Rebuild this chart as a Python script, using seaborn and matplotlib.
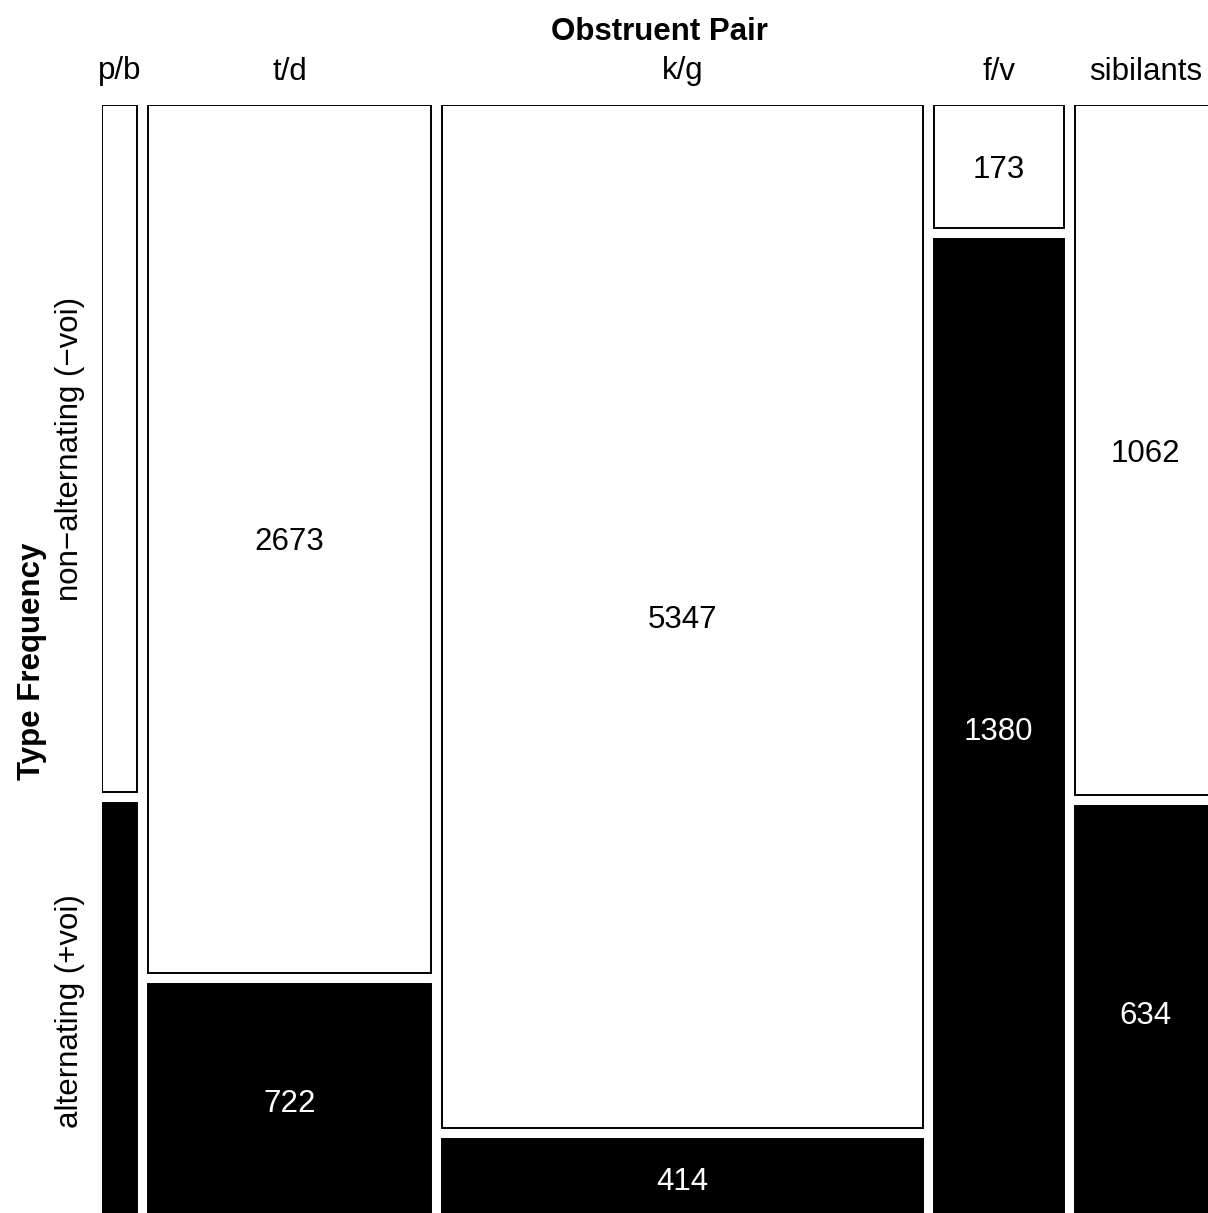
import numpy as np
import pandas as pd
import seaborn as sns
import matplotlib
matplotlib.use("Agg")
import matplotlib.pyplot as plt
import matplotlib.transforms as mtransforms

# ---- data ----
pairs = ["p/b", "t/d", "k/g", "f/v", "sibilants"]
non_alternating = [262, 2673, 5347, 173, 1062]   # top row (white)
alternating = [158, 722, 414, 1380, 634]         # bottom row (black)
show_counts = [False, True, True, True, True]
row_labels = ["non\u2212alternating (\u2212voi)", "alternating (+voi)"]
x_title = "Obstruent Pair"
y_title = "Type Frequency"

sns.set_theme(style="white")
plt.rcParams["font.family"] = ["Liberation Sans", "DejaVu Sans"]
plt.rcParams["text.color"] = "black"

df = pd.DataFrame({"pair": pairs, "non": non_alternating, "alt": alternating,
                   "show": show_counts})
df["total"] = df["non"] + df["alt"]

W, H = 1208, 1213
fig = plt.figure(figsize=(W / 100, H / 100), dpi=100)
fig.patch.set_facecolor("white")
ax_left, ax_right, ax_top, ax_bottom = 102, 1216, 105, 1218
ax = fig.add_axes([ax_left / W, 1 - ax_bottom / H,
                   (ax_right - ax_left) / W, (ax_bottom - ax_top) / H])
ax.set_xlim(0, 1)
ax.set_ylim(0, 1)
ax.set_axis_off()

gap_x = 11 / (ax_right - ax_left)
gap_y = 11 / (ax_bottom - ax_top)
n = len(df)
avail_w = 1 - gap_x * (n - 1)
avail_h = 1 - gap_y

fs = 22.5
lw = 1.4
x = 0.0
centers = []
for _, r in df.iterrows():
    w = avail_w * r["total"] / df["total"].sum()
    h_non = avail_h * r["non"] / r["total"]
    h_alt = avail_h * r["alt"] / r["total"]
    # top: non-alternating (white)
    ax.bar(x, h_non, width=w, bottom=1 - h_non, align="edge",
           color="white", edgecolor="black", linewidth=lw)
    # bottom: alternating (black)
    ax.bar(x, h_alt, width=w, bottom=0, align="edge",
           color="black", edgecolor="black", linewidth=lw)
    if r["show"]:
        ax.text(x + w / 2, 1 - h_non / 2, f"{r['non']}", ha="center",
                va="center_baseline", fontsize=fs, color="black")
        ax.text(x + w / 2, h_alt / 2, f"{r['alt']}", ha="center",
                va="center_baseline", fontsize=fs, color="white")
    centers.append((x + w / 2, w, h_non, h_alt))
    x += w + gap_x

# column labels above
trans_top = mtransforms.blended_transform_factory(ax.transData, ax.transAxes)
for (cx, w, hn, ha_), name in zip(centers, pairs):
    t = mtransforms.offset_copy(trans_top, fig=fig, x=0, y=37 * 0.72, units="points")
    ax.text(cx, 1, name, transform=t, ha="center", va="center_baseline",
            fontsize=fs, clip_on=False, color="black")

# axis title top
t = mtransforms.offset_copy(ax.transAxes, fig=fig, x=0, y=76 * 0.72, units="points")
ax.text(0.5, 1, x_title, transform=t, ha="center", va="center_baseline",
        fontsize=fs, fontweight="bold", clip_on=False, color="black")

# row labels, centered on first column's boxes
cx0, w0, hn0, ha0 = centers[0]
trans_left = mtransforms.blended_transform_factory(ax.transAxes, ax.transData)
tl = mtransforms.offset_copy(trans_left, fig=fig, x=-32 * 0.72, y=0, units="points")
ax.text(0, 1 - hn0 / 2, row_labels[0], transform=tl, rotation=90, ha="center",
        va="center", fontsize=fs, clip_on=False, color="black")
ax.text(0, ha0 / 2, row_labels[1], transform=tl, rotation=90, ha="center",
        va="center", fontsize=fs, clip_on=False, color="black")

# y title
ty = mtransforms.offset_copy(ax.transAxes, fig=fig, x=-70 * 0.72, y=0, units="points")
ax.text(0, 0.5, y_title, transform=ty, rotation=90, ha="center",
        va="center", fontsize=fs, fontweight="bold", clip_on=False,
        color="black")

fig.savefig("out.png", dpi=100, facecolor="white")
